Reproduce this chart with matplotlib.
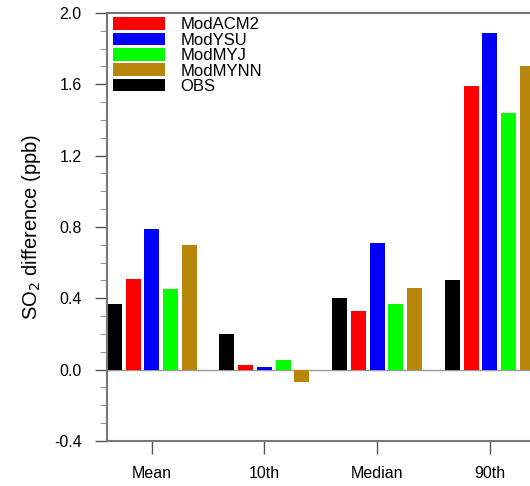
"""Grouped bars of SO2 difference statistics for the PBL-scheme runs vs. observations."""

import matplotlib

matplotlib.use("Agg")
import matplotlib.pyplot as plt
import numpy as np
from matplotlib.ticker import MultipleLocator

plt.rcParams["font.family"] = ["Liberation Sans", "DejaVu Sans"]

stats = ["Mean", "10th", "Median", "90th"]

obs = [0.37, 0.20, 0.40, 0.50]
mod_acm2 = [0.51, 0.025, 0.33, 1.59]
mod_ysu = [0.79, 0.015, 0.71, 1.89]
mod_myj = [0.45, 0.055, 0.37, 1.44]
mod_mynn = [0.70, -0.07, 0.46, 1.70]

# drawing order within each group (left to right)
series = [
    ("OBS", obs, "#000000"),
    ("ModACM2", mod_acm2, "#ff0000"),
    ("ModYSU", mod_ysu, "#0000ff"),
    ("ModMYJ", mod_myj, "#00ff00"),
    ("ModMYNN", mod_mynn, "#b8860b"),
]
legend_order = ["ModACM2", "ModYSU", "ModMYJ", "ModMYNN", "OBS"]

fig = plt.figure(figsize=(5.3, 4.86), dpi=100)
ax = fig.add_axes([0.2013, 0.0926, 0.8175, 0.8807])

x = np.arange(len(stats))
step = 0.1664
width = 0.133
handles = {}
for i, (name, vals, color) in enumerate(series):
    bars = ax.bar(x + (i - 2) * step, vals, width, color=color,
                  edgecolor="none", label=name)
    handles[name] = bars

ax.axhline(0.0, color="#999999", lw=1.0, zorder=0)

ax.set_xlim(-0.4, 3.445)
ax.set_ylim(-0.4, 2.0)
ax.yaxis.set_minor_locator(MultipleLocator(0.1))
yt = np.arange(-0.4, 2.01, 0.4)
ax.set_yticks(yt)
ax.set_yticklabels([f"{v:.1f}" for v in yt])
ax.set_xticks(x)
ax.set_xticklabels(stats)

ax.tick_params(axis="both", which="major", direction="out", length=9,
               width=1.0, color="#555555", labelsize=11.5, pad=9)
ax.tick_params(axis="y", which="minor", direction="out", length=5,
               width=0.8, color="#999999")

for side in ["left", "top", "bottom"]:
    ax.spines[side].set_color("#777777")
    ax.spines[side].set_linewidth(1.5)
ax.spines["right"].set_visible(False)

ax.set_ylabel("SO$_2$ difference (ppb)", fontsize=14.5, labelpad=8)

ax.legend([handles[n] for n in legend_order], legend_order,
          loc="upper left", bbox_to_anchor=(0.0145, 0.99), borderpad=0,
          frameon=False, fontsize=12, handlelength=3.1, handleheight=0.78,
          handletextpad=0.96, labelspacing=0.02, borderaxespad=0)

fig.savefig("out.png", dpi=100)
